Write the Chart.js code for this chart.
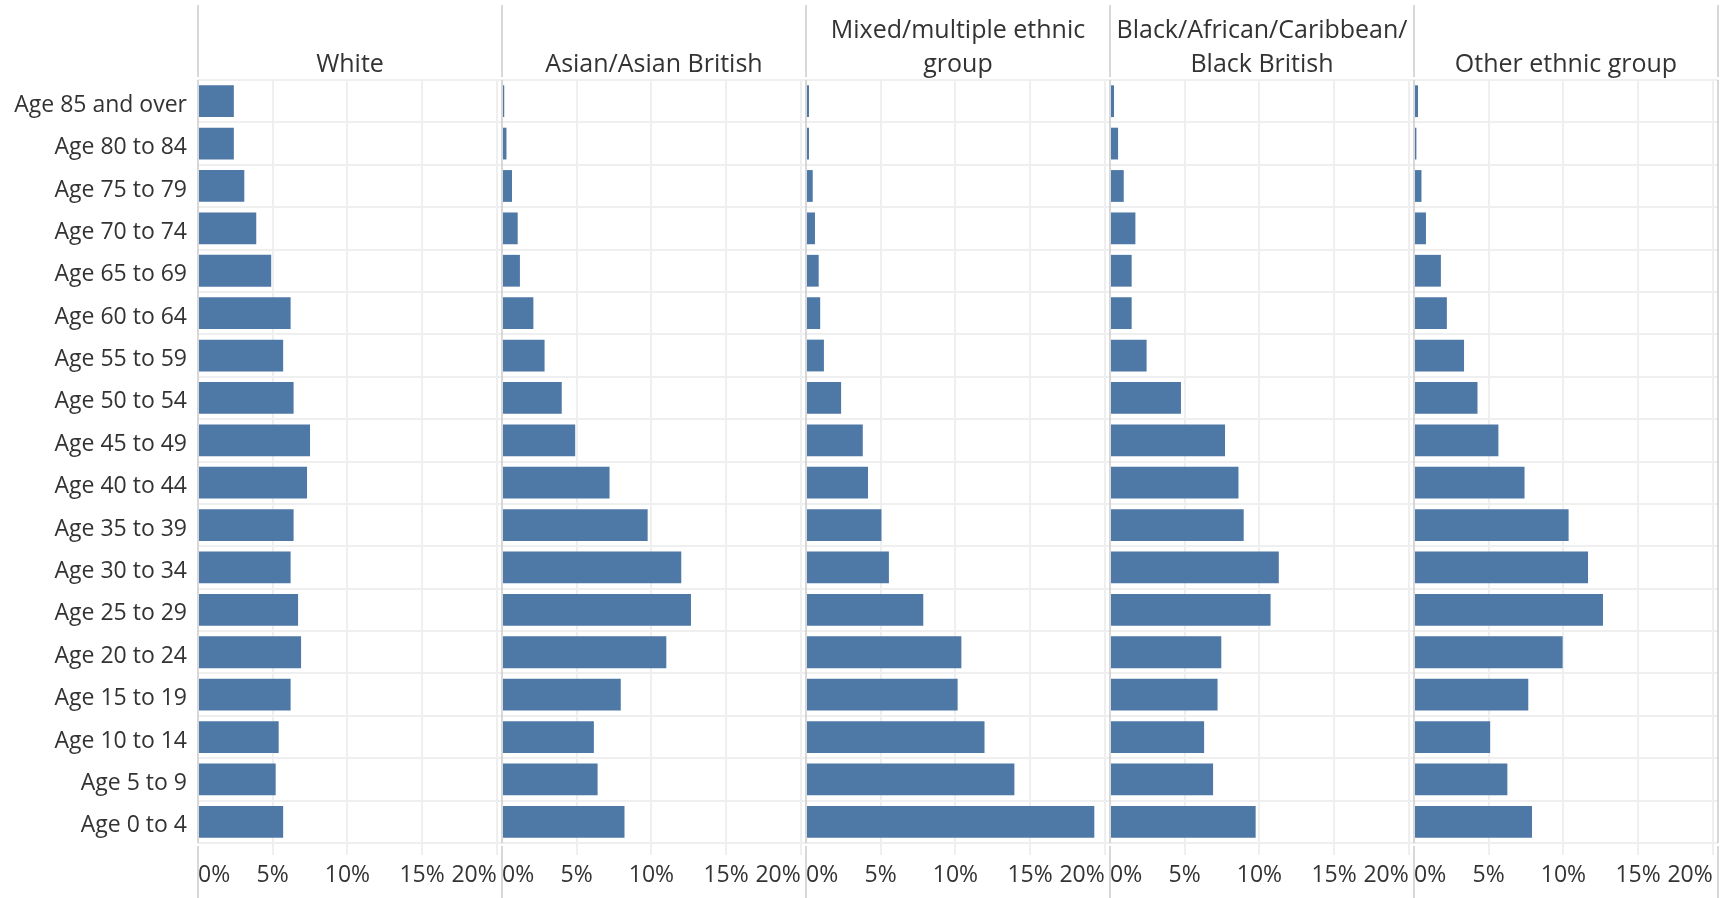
<!DOCTYPE html>
<html lang="en">
<head>
<meta charset="UTF-8">
<title>Age profile by ethnic group</title>
<script src="https://cdn.jsdelivr.net/npm/chart.js@4"></script>
<style>
  html, body { margin: 0; padding: 0; background: #fff; overflow: hidden; }
  canvas { display: block; }
</style>
</head>
<body>
<canvas id="chart" width="1727" height="898"></canvas>
<script>
// Age bands, top to bottom
const ageGroups = [
  'Age 85 and over', 'Age 80 to 84', 'Age 75 to 79', 'Age 70 to 74', 'Age 65 to 69',
  'Age 60 to 64', 'Age 55 to 59', 'Age 50 to 54', 'Age 45 to 49', 'Age 40 to 44',
  'Age 35 to 39', 'Age 30 to 34', 'Age 25 to 29', 'Age 20 to 24', 'Age 15 to 19',
  'Age 10 to 14', 'Age 5 to 9', 'Age 0 to 4'
];

const groupNames = ['White', 'Asian/Asian British', 'Mixed/multiple ethnic group',
  'Black/African/Caribbean/Black British', 'Other ethnic group'];
const headerLines = [['White'], ['Asian/Asian British'], ['Mixed/multiple ethnic', 'group'],
  ['Black/African/Caribbean/', 'Black British'], ['Other ethnic group']];

// share of each ethnic group in each age band (%)
const white = [2.4, 2.4, 3.1, 3.9, 4.9, 6.2, 5.7, 6.4, 7.5, 7.3, 6.4, 6.2, 6.7, 6.9, 6.2, 5.4, 5.2, 5.7];
const asian = [0.15, 0.3, 0.67, 1.05, 1.2, 2.1, 2.85, 4.0, 4.9, 7.2, 9.75, 12.0, 12.65, 11.0, 7.95, 6.15, 6.4, 8.2];
const mixed = [0.2, 0.2, 0.45, 0.6, 0.85, 0.95, 1.2, 2.35, 3.8, 4.15, 5.05, 5.55, 7.85, 10.4, 10.15, 11.95, 13.95, 19.3];
const black = [0.27, 0.54, 0.92, 1.7, 1.45, 1.45, 2.45, 4.75, 7.7, 8.6, 8.95, 11.3, 10.75, 7.45, 7.2, 6.3, 6.9, 9.75];
const other = [0.27, 0.16, 0.5, 0.8, 1.8, 2.2, 3.35, 4.25, 5.65, 7.4, 10.35, 11.65, 12.65, 9.95, 7.65, 5.1, 6.25, 7.9];

const series = [white, asian, mixed, black, other];
const xTicks = [0, 5, 10, 15, 20];

const FONT = "'Open Sans', sans-serif";
const TEXT = '#333333';
const BAR = '#4e79a7';
const GRID = '#efefef';
const DIVIDER = '#cbcbcb';

const scales = {
  y: {
    type: 'category',
    labels: ageGroups,
    offset: true,
    grid: { offset: true, color: GRID, lineWidth: 2, drawTicks: false },
    border: { display: false },
    ticks: { color: TEXT, font: { family: FONT, size: 23 }, padding: 11, labelOffset: 4 },
    afterFit: s => { s.width = 198; }
  }
};

groupNames.forEach((g, i) => {
  scales['x' + i] = {
    type: 'linear',
    position: 'bottom',
    stack: 'panels',
    stackWeight: 1,
    min: 0,
    max: 20.35,
    afterBuildTicks: s => { s.ticks = xTicks.map(v => ({ value: v })); },
    grid: {
      color: ctx => (ctx.tick && ctx.tick.value === 0) ? 'rgba(0,0,0,0)' : GRID,
      lineWidth: 2,
      tickLength: 12
    },
    border: { display: false },
    ticks: {
      align: 'inner',
      autoSkip: false,
      maxRotation: 0,
      color: TEXT,
      font: { family: FONT, size: 23 },
      padding: 7,
      callback: v => v + '%'
    },
    afterFit: s => { s.height = 55; }
  };
});

// panel dividers and column headers
const panelPlugin = {
  id: 'panels',
  afterDraw(chart) {
    const { ctx, chartArea } = chart;
    const edges = groupNames.map((g, i) => chart.scales['x' + i].left);
    edges.push(chart.scales['x' + (groupNames.length - 1)].right);

    ctx.save();
    ctx.strokeStyle = DIVIDER;
    ctx.lineWidth = 1.5;
    edges.forEach(x => {
      ctx.beginPath();
      ctx.moveTo(x, 5); ctx.lineTo(x, chartArea.top - 3);
      ctx.moveTo(x, chartArea.top); ctx.lineTo(x, chartArea.bottom);
      ctx.moveTo(x, chartArea.bottom + 3); ctx.lineTo(x, chart.height);
      ctx.stroke();
    });

    ctx.fillStyle = TEXT;
    ctx.font = '25px ' + FONT;
    ctx.textAlign = 'center';
    ctx.textBaseline = 'middle';
    headerLines.forEach((lines, i) => {
      const s = chart.scales['x' + i];
      const cx = (s.left + s.right) / 2;
      lines.forEach((t, j) => {
        ctx.fillText(t, cx, 65 - (lines.length - 1 - j) * 34);
      });
    });
    ctx.restore();
  }
};

new Chart(document.getElementById('chart'), {
  type: 'bar',
  data: {
    labels: ageGroups,
    datasets: series.map((data, i) => ({
      label: groupNames[i],
      data,
      xAxisID: 'x' + i,
      yAxisID: 'y',
      backgroundColor: BAR,
      borderWidth: 0,
      grouped: false,
      categoryPercentage: 1,
      barPercentage: 0.75
    }))
  },
  options: {
    indexAxis: 'y',
    responsive: false,
    animation: false,
    layout: { padding: { top: 80, right: 9, bottom: 0, left: 0 } },
    scales,
    plugins: {
      legend: { display: false },
      tooltip: { enabled: false }
    }
  },
  plugins: [panelPlugin]
});
</script>
</body>
</html>
